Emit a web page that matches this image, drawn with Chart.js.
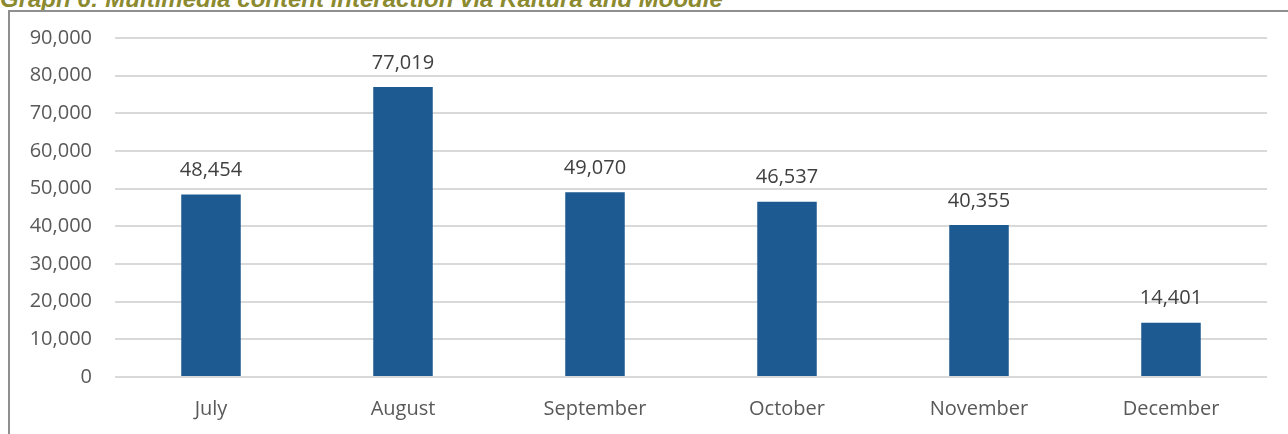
<!DOCTYPE html>
<html>
<head>
<meta charset="utf-8">
<script src="https://cdn.jsdelivr.net/npm/chart.js@4/dist/chart.umd.min.js"></script>
<style>
  html, body { margin: 0; padding: 0; background: #fff; }
  body { width: 1288px; height: 434px; position: relative; overflow: hidden; }
  .caption {
    position: absolute; left: 0; top: -15px; line-height: 24px;
    font: italic bold 24px "Liberation Sans", Arial, sans-serif;
    color: #8c8a30; white-space: nowrap;
  }
  .frame {
    position: absolute; left: 8px; top: 10px; width: 1300px; height: 440px;
    border: 2px solid #8f8f8f; box-sizing: border-box;
  }
  #wrap { position: absolute; left: 0; top: 0; width: 1288px; height: 434px; }
</style>
</head>
<body>
<div class="caption">Graph 6: Multimedia content interaction via Kaltura and Moodle</div>
<div class="frame"></div>
<div id="wrap"><canvas id="kalturaChart"></canvas></div>
<script>
// Monthly interactions
const months = ['July', 'August', 'September', 'October', 'November', 'December'];
const interactions = [48454, 77019, 49070, 46537, 40355, 14401];
const yTicks = [0, 10000, 20000, 30000, 40000, 50000, 60000, 70000, 80000, 90000];

const fontFamily = '"Open Sans", "Noto Sans", sans-serif';

// Value labels above each bar
const valueLabels = {
    id: 'valueLabels',
    afterDatasetsDraw(chart) {
        const ctx = chart.ctx;
        const meta = chart.getDatasetMeta(0);
        ctx.save();
        ctx.font = '20px ' + fontFamily;
        ctx.fillStyle = '#404040';
        ctx.textAlign = 'center';
        ctx.textBaseline = 'middle';
        meta.data.forEach((bar, i) => {
            ctx.fillText(interactions[i].toLocaleString('en-US'), bar.x, bar.y - 24);
        });
        ctx.restore();
    }
};

const ctx = document.getElementById('kalturaChart').getContext('2d');
const kalturaChart = new Chart(ctx, {
    type: 'bar',
    data: {
        labels: months,
        datasets: [{
            data: interactions,
            backgroundColor: '#1d5a91',
            barPercentage: 0.62,
            categoryPercentage: 0.5
        }]
    },
    options: {
        responsive: true,
        maintainAspectRatio: false,
        animation: false,
        layout: { padding: { top: 38, right: 21, left: 0, bottom: 0 } },
        plugins: {
            legend: { display: false },
            tooltip: { enabled: false }
        },
        scales: {
            x: {
                grid: { display: false },
                border: { display: false },
                ticks: { color: '#595959', font: { size: 20, family: fontFamily }, padding: 12 },
                afterFit(scale) { scale.height = 57; }
            },
            y: {
                min: 0,
                max: 90000,
                afterBuildTicks(scale) { scale.ticks = yTicks.map(v => ({ value: v })); },
                grid: { color: '#d9d9d9', lineWidth: 2, drawTicks: false },
                border: { display: false },
                ticks: {
                    color: '#595959',
                    font: { size: 20, family: fontFamily },
                    padding: 23,
                    callback: v => v.toLocaleString('en-US')
                },
                afterFit(scale) { scale.width = 115; }
            }
        }
    },
    plugins: [valueLabels]
});
</script>
</body>
</html>
